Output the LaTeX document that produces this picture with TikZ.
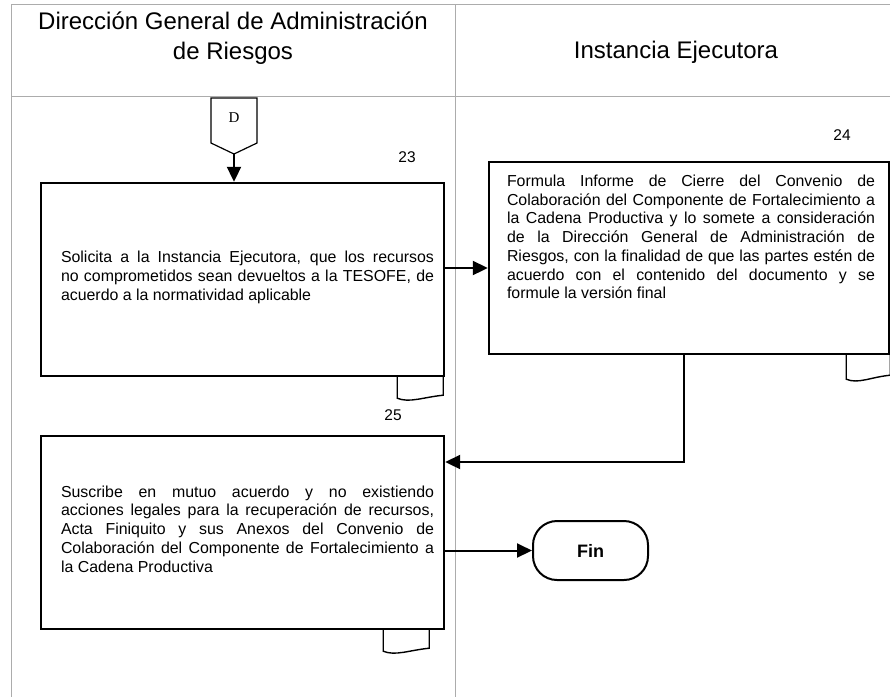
\documentclass[tikz,border=0pt]{standalone}
\usepackage{fontspec}
\setmainfont{Liberation Sans}
\newfontfamily\serifD{Liberation Serif}
\usetikzlibrary{arrows.meta,positioning,calc}
\tolerance=10000

\tikzset{
  lane/.style={draw=gray!65, line width=0.9pt},
  hdr/.style={font=\fontsize{24}{30}\selectfont, align=center},
  procbox/.style={draw, line width=2.4pt, minimum width=403pt, minimum height=193pt, inner sep=0pt},
  boxtext/.style={text width=373pt, align=justify, inner sep=0pt, font=\fontsize{15.9}{18.7}\selectfont},
  stepnum/.style={font=\fontsize{15.5}{18}\selectfont},
  flow/.style={line width=2pt, -{Triangle[length=15pt,width=14pt]}},
  doctab/.style={line width=1.4pt},
}

\begin{document}
\begin{tikzpicture}[x=1pt,y=-1pt]
  \useasboundingbox (0,0) rectangle (890,697);

  % lanes
  \draw[lane] (11,4) -- (890,4);
  \draw[lane] (11,96) -- (890,96);
  \draw[lane] (11,4) -- (11,697);
  \draw[lane] (455,4) -- (455,697);
  \node[hdr] (h1) at (233,38) {Dirección General de Administración\\de Riesgos};
  \node[hdr] (h2) at (676,52) {Instancia Ejecutora};

  % off-page connector
  \draw[line width=1.2pt] (211,98) -- (257,98) -- (257,143) -- (234,154) -- (211,143) -- cycle;
  \node[font=\serifD\fontsize{15}{18}\selectfont] (dlbl) at (234,118) {D};
  \coordinate (dtip) at (234,154);

  % step 23
  \node[procbox] (b23) at (242.5,279.5) {};
  \node[boxtext, anchor=west] (t23) at ([xshift=21pt,yshift=2pt]b23.west)
    {Solicita a la Instancia Ejecutora, que los recursos\linebreak
     no comprometidos sean devueltos a la TESOFE, de\linebreak
     acuerdo a la normatividad aplicable};
  \node[stepnum] (n23) at (407,157) {23};
  \draw[doctab] ([xshift=-48pt]b23.south east) -- ++(0,21)
    .. controls +(12,5) and +(-20,2) .. ++(46,-3) -- ++(0,-18);

  % step 24
  \node[procbox, minimum width=400pt, minimum height=192pt] (b24) at (689,258) {};
  \node[boxtext, text width=368pt, anchor=north west] (t24) at ([xshift=19pt,yshift=-14pt]b24.north west)
    {Formula Informe de Cierre del Convenio de\linebreak
     Colaboración del Componente de Fortalecimiento a\linebreak
     la Cadena Productiva y lo somete a consideración\linebreak
     de la Dirección General de Administración de\linebreak
     Riesgos, con la finalidad de que las partes estén de\linebreak
     acuerdo con el contenido del documento y se\linebreak
     formule la versión final};
  \node[stepnum] (n24) at (842,135) {24};
  \draw[doctab] ([xshift=-44pt]b24.south east) -- ++(0,24)
    .. controls +(12,5) and +(-20,2) .. ++(44,-4) -- ++(0,-20);

  % step 25
  \node[procbox] (b25) at (242.5,532.5) {};
  \node[boxtext, anchor=west] (t25) at ([xshift=21pt,yshift=3.5pt]b25.west)
    {Suscribe en mutuo acuerdo y no existiendo\linebreak
     acciones legales para la recuperación de recursos,\linebreak
     Acta Finiquito y sus Anexos del Convenio de\linebreak
     Colaboración del Componente de Fortalecimiento a\linebreak
     la Cadena Productiva};
  \node[stepnum] (n25) at (393,415) {25};
  \draw[doctab] ([xshift=-62pt]b25.south east) -- ++(0,21)
    .. controls +(12,5) and +(-20,2) .. ++(46,-3) -- ++(0,-18);

  % end
  \node[draw, line width=2pt, rounded corners=24pt, minimum width=115pt, minimum height=59pt,
        font=\bfseries\fontsize{18}{20}\selectfont] (fin) at (590.5,550.5) {Fin};

  % connectors
  \draw[flow] (dtip) -- (dtip |- b23.north);
  \draw[flow] ([yshift=11.5pt]b23.east) -- ([yshift=11.5pt]b23.east -| b24.west);
  \draw[flow] ([xshift=-5pt]b24.south) |- ([yshift=70.5pt]b25.east);
  \draw[flow] (b25.east |- fin.west) -- (fin.west);
\end{tikzpicture}
\end{document}
